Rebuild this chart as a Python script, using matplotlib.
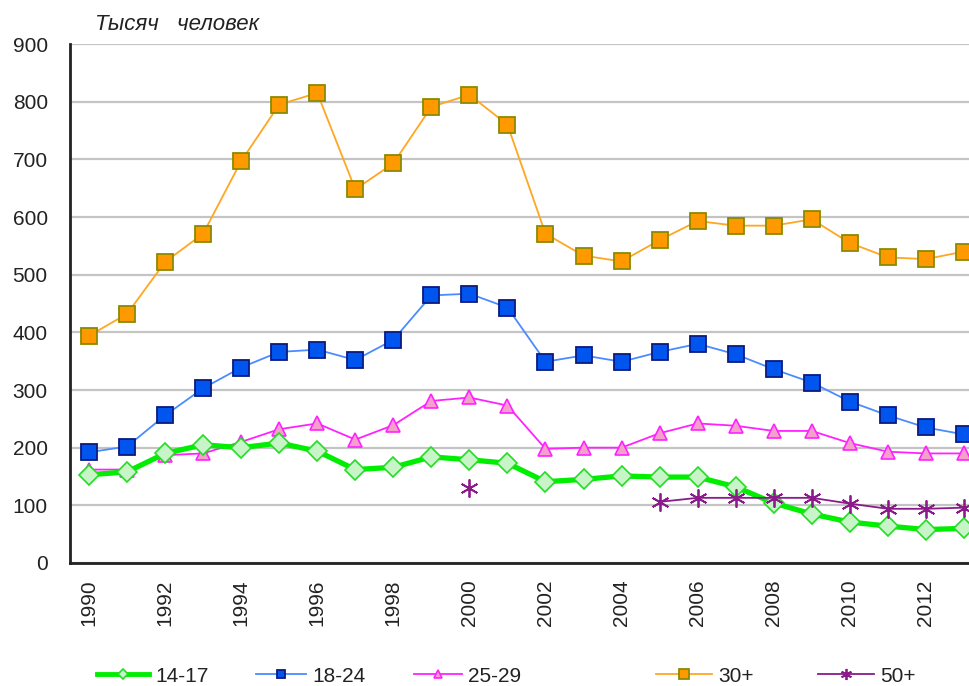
import numpy as np
import matplotlib
matplotlib.use("Agg")
import matplotlib.pyplot as plt
from matplotlib.lines import Line2D

years = list(range(1990, 2014))
age_14_17 = [153, 158, 190, 205, 200, 208, 194, 162, 166, 184, 179, 173, 141, 145, 151, 149, 149, 132, 104, 85, 71, 64, 58, 60]
age_18_24 = [192, 202, 256, 303, 339, 366, 370, 352, 387, 464, 467, 443, 349, 360, 349, 366, 380, 362, 336, 313, 280, 256, 235, 223]
age_25_29 = [162, 162, 187, 190, 210, 232, 242, 214, 239, 281, 287, 273, 198, 200, 200, 225, 242, 238, 229, 229, 208, 193, 190, 190]
age_30p = [394, 432, 522, 571, 697, 795, 815, 648, 693, 791, 812, 760, 571, 533, 523, 560, 593, 585, 585, 596, 555, 530, 527, 540]
age_50p = [np.nan]*10 + [130, np.nan, np.nan, np.nan, np.nan, 106, 113, 113, 113, 113, 103, 94, 94, 96]
labels = ["14-17", "18-24", "25-29", "30+", "50+"]
yticks = [0, 100, 200, 300, 400, 500, 600, 700, 800, 900]
xticks = list(range(1990, 2014, 2))

plt.rcParams['font.family'] = ['Liberation Sans', 'DejaVu Sans']

W, H = 970, 686
fig = plt.figure(figsize=(W/100, H/100), dpi=100)
left, right, top, bottom = 70, 970, 44, 563
ax = fig.add_axes([left/W, 1-bottom/H, (right-left)/W, (bottom-top)/H])

styles = [
    dict(color='#00ee00', lw=3.8, marker='D', ms=10, mfc='#c8f5c8', mec='#22dd22', mew=1.2, zorder=4),
    dict(color='#4a8cff', lw=1.3, marker='s', ms=11, mfc='#0055ee', mec='#0a1a80', mew=1.3, zorder=5),
    dict(color='#ff22ff', lw=1.3, marker='^', ms=10, mfc='#f5a0cc', mec='#ff22ff', mew=1.2, zorder=3),
    dict(color='#ffa622', lw=1.3, marker='s', ms=11.5, mfc='#ff9900', mec='#8a8a00', mew=1.3, zorder=5),
    dict(color='#8b1a8b', lw=1.3, marker=(6, 2, 0), ms=13, mec='#8b1a8b', mew=1.3, zorder=6),
]
series = [age_14_17, age_18_24, age_25_29, age_30p, age_50p]
for s, st in zip(series, styles):
    ax.plot(years, s, **st)

ax.set_xlim(1989.5, 2013.16)
ax.set_ylim(0, 900)
ax.set_yticks(yticks)
ax.set_xticks(xticks)
ax.set_xticklabels([str(x) for x in xticks], rotation=90, fontsize=15, color='#222222')
ax.set_yticklabels([str(y) for y in yticks], fontsize=15, color='#222222')
ax.tick_params(axis='x', length=0, pad=12)
ax.tick_params(axis='y', length=0, pad=16)
ax.grid(axis='y', color='#c4c4c4', lw=1.6)
ax.set_axisbelow(True)
for sp in ['top', 'right']:
    ax.spines[sp].set_visible(False)
ax.spines['left'].set_linewidth(2)
ax.spines['bottom'].set_linewidth(2)
ax.spines['left'].set_color('#222222')
ax.spines['bottom'].set_color('#222222')

fig.text(95/W, 1-25/H, "Тысяч   человек", fontsize=16, style='italic', color='#222222', va='center', ha='left')

# legend
leg_pos = [97, 256, 414, 656, 818]
leg_len = [2.5, 2.4, 2.3, 2.7, 2.7]
leg_ms = [5, 6, 6, 7, 8]
for i, (lab, st) in enumerate(zip(labels, styles)):
    st2 = dict(st)
    st2.pop('zorder')
    st2['ms'] = leg_ms[i]
    if i == 0:
        st2['lw'] = 3.5
    h = Line2D([], [], **st2)
    lg = fig.legend([h], [lab], loc='center left', bbox_to_anchor=(leg_pos[i]/W, 1-676/H),
                    frameon=False, fontsize=15, handlelength=leg_len[i], handletextpad=0.3,
                    borderpad=0, borderaxespad=0)
    for t in lg.get_texts():
        t.set_color('#222222')

fig.savefig('out.png', dpi=100)
